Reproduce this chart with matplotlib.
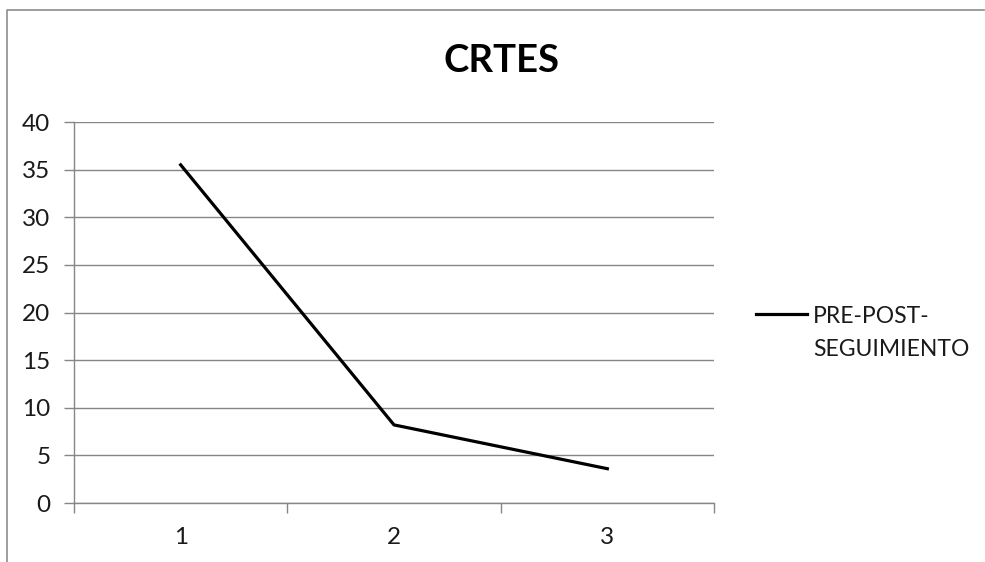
import matplotlib
matplotlib.use("Agg")
import matplotlib.pyplot as plt
from matplotlib.lines import Line2D

categories = [1, 2, 3]
values = [35.5, 8.2, 3.6]
series_name = "PRE-POST-\nSEGUIMIENTO"
title = "CRTES"
yticks = [0, 5, 10, 15, 20, 25, 30, 35, 40]

plt.rcParams['font.family'] = ['Lato', 'DejaVu Sans']

W, H = 985, 562
fig = plt.figure(figsize=(W / 100, H / 100), dpi=100)
ax = fig.add_axes([74 / W, (H - 503) / H, (714 - 74) / W, (503 - 122) / H])

grid_c = '#868686'
txt_c = '#1a1a1a'
ax.plot(categories, values, color='black', lw=2.3, solid_joinstyle='miter')

ax.set_xlim(0.5, 3.5)
ax.set_ylim(0, 40)
ax.set_yticks(yticks)
ax.set_xticks(categories)
ax.set_xticks([0.5, 1.5, 2.5, 3.5], minor=True)
ax.tick_params(axis='x', which='major', length=0, pad=17, labelsize=17.5, labelcolor=txt_c)
ax.tick_params(axis='x', which='minor', length=7, width=1, color=grid_c, direction='out')
ax.tick_params(axis='y', length=7, width=1, color=grid_c, pad=10, labelsize=17.5, labelcolor=txt_c)
ax.yaxis.grid(True, color=grid_c, lw=1)
ax.set_axisbelow(True)
for s in ['top', 'right']:
    ax.spines[s].set_visible(False)
for s in ['left', 'bottom']:
    ax.spines[s].set_color(grid_c)
    ax.spines[s].set_linewidth(1)

fig.text(501 / W, 1 - 61 / H, title, ha='center', va='center', fontsize=27.5, fontweight='bold', color='black')

# legend
fig.add_artist(Line2D([756 / W, 807 / W], [1 - 314 / H, 1 - 314 / H], color='black', lw=2.3, transform=fig.transFigure))
fig.text(813 / W, 1 - 333 / H, series_name, ha='left', va='center', fontsize=16.5, color=txt_c, linespacing=1.65)

# frame border
fig.add_artist(Line2D([7 / W, 7 / W, 984 / W], [0, 1 - 10 / H, 1 - 10 / H], color='#8c8c8c', lw=1.2, transform=fig.transFigure))

fig.savefig('out.png', dpi=100)
